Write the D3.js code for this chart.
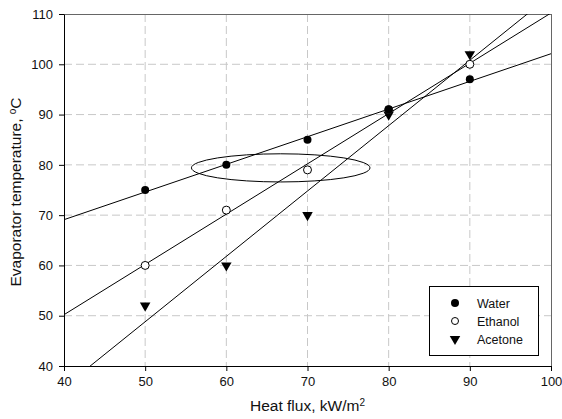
<!DOCTYPE html>
<html><head><meta charset="utf-8">
<script src="https://d3js.org/d3.v7.min.js"></script>
<style>body{margin:0;background:#fff}svg{display:block}text{font-family:"Liberation Sans",Arial,sans-serif}</style>
</head><body>
<svg id="c" width="562" height="419"></svg>
<script>
const heatFlux = [50, 60, 70, 80, 90];
const water = [75, 80, 85, 91, 97];
const ethanol = [60, 71, 79, 91, 100];
const acetone = [52, 60, 70, 90, 102];
const seriesNames = ["Water", "Ethanol", "Acetone"];
const xTicks = [40, 50, 60, 70, 80, 90, 100];
const yTicks = [40, 50, 60, 70, 80, 90, 100, 110];
const ellipseNote = {cx: 66.7, cy: 79.4, rx: 11.0, ry: 2.8};

const svg = d3.select("#c");
const m = {l: 64, r: 551, t: 14, b: 366};
const x = d3.scaleLinear().domain([40, 100]).range([m.l, m.r]);
const y = d3.scaleLinear().domain([40, 110]).range([m.b, m.t]);

// grid
const g = svg.append("g");
g.selectAll(".gx").data(xTicks.filter(d => d > 40 && d < 100)).join("line")
  .attr("x1", d => x(d)).attr("x2", d => x(d)).attr("y1", m.t).attr("y2", m.b)
  .attr("stroke", "#c8c8c8").attr("stroke-dasharray", "8,4");
g.selectAll(".gy").data(yTicks.filter(d => d > 40 && d < 110)).join("line")
  .attr("y1", d => y(d)).attr("y2", d => y(d)).attr("x1", m.l).attr("x2", m.r)
  .attr("stroke", "#c8c8c8").attr("stroke-dasharray", "8,4");

// frame top/right
svg.append("line").attr("x1", m.l).attr("x2", m.r).attr("y1", m.t + 0.5).attr("y2", m.t + 0.5).attr("stroke", "#666");
svg.append("line").attr("x1", m.r + 0.5).attr("x2", m.r + 0.5).attr("y1", m.t).attr("y2", m.b + 4).attr("stroke", "#666");

// clip
svg.append("clipPath").attr("id", "clip").append("rect")
  .attr("x", m.l).attr("y", m.t).attr("width", m.r - m.l).attr("height", m.b - m.t);

function fit(ys) {
  const mx = d3.mean(heatFlux), my = d3.mean(ys);
  let sxy = 0, sxx = 0;
  heatFlux.forEach((xv, i) => { sxy += (xv - mx) * (ys[i] - my); sxx += (xv - mx) ** 2; });
  const b = sxy / sxx;
  return {a: my - b * mx, b};
}
const lineG = svg.append("g").attr("clip-path", "url(#clip)");
[water, ethanol, acetone].forEach(ys => {
  const f = fit(ys);
  const xs = [30, 110];
  lineG.append("path")
    .attr("d", d3.line().x(d => x(d)).y(d => y(f.a + f.b * d))(xs))
    .attr("fill", "none").attr("stroke", "#000").attr("stroke-width", 1);
});

// ellipse
svg.append("ellipse")
  .attr("cx", x(ellipseNote.cx)).attr("cy", y(ellipseNote.cy))
  .attr("rx", x(ellipseNote.cx + ellipseNote.rx) - x(ellipseNote.cx))
  .attr("ry", y(ellipseNote.cy) - y(ellipseNote.cy + ellipseNote.ry))
  .attr("fill", "none").attr("stroke", "#000").attr("stroke-width", 1);

// axes
const ax = svg.append("g").attr("transform", `translate(0,${m.b})`)
  .call(d3.axisBottom(x).tickValues(xTicks).tickSize(5).tickPadding(6).tickSizeOuter(0));
const ay = svg.append("g").attr("transform", `translate(${m.l},0)`)
  .call(d3.axisLeft(y).tickValues(yTicks).tickSize(5).tickPadding(6).tickSizeOuter(0));
[ax, ay].forEach(a => {
  a.select(".domain").attr("stroke", "#000");
  a.selectAll("line").attr("stroke", "#000");
  a.selectAll("text").attr("font-size", 13).attr("fill", "#111").attr("font-family", "Liberation Sans, Arial, sans-serif");
});

// markers
const tri = d3.symbol().type(d3.symbolTriangle).size(48);
const pts = svg.append("g");
pts.selectAll(".a").data(heatFlux).join("path")
  .attr("d", tri).attr("transform", (d, i) => `translate(${x(d)},${y(acetone[i])}) rotate(180)`)
  .attr("fill", "#000");
pts.selectAll(".e").data(heatFlux).join("circle")
  .attr("cx", d => x(d)).attr("cy", (d, i) => y(ethanol[i])).attr("r", 4)
  .attr("fill", "#fff").attr("stroke", "#000").attr("stroke-width", 1);
pts.selectAll(".w").data(heatFlux).join("circle")
  .attr("cx", d => x(d)).attr("cy", (d, i) => y(water[i])).attr("r", 4)
  .attr("fill", "#000");

// legend
const lg = svg.append("g");
lg.append("rect").attr("x", 429.5).attr("y", 286.5).attr("width", 109).attr("height", 69)
  .attr("fill", "#fff").attr("stroke", "#000");
const rowsY = [303, 321, 339];
seriesNames.forEach((s, i) => {
  const cy = rowsY[i];
  if (i === 0) lg.append("circle").attr("cx", 455).attr("cy", cy).attr("r", 4).attr("fill", "#000");
  if (i === 1) lg.append("circle").attr("cx", 455).attr("cy", cy).attr("r", 3.5).attr("fill", "#fff").attr("stroke", "#000");
  if (i === 2) lg.append("path").attr("d", tri).attr("transform", `translate(455,${cy}) rotate(180)`).attr("fill", "#000");
  lg.append("text").attr("x", 477).attr("y", cy + 4.5).attr("font-size", 12.5).attr("fill", "#111").text(s);
});

// titles
svg.append("text").attr("x", (m.l + m.r) / 2).attr("y", 411).attr("text-anchor", "middle")
  .attr("font-size", 15.5).attr("fill", "#111")
  .html('Heat flux, kW/m<tspan baseline-shift="super" font-size="10">2</tspan>');
svg.append("text").attr("transform", `translate(21,${(m.t + m.b) / 2 + 2}) rotate(-90)`)
  .attr("text-anchor", "middle").attr("font-size", 15.5).attr("fill", "#111")
  .html('Evaporator temperature, <tspan baseline-shift="super" font-size="10">o</tspan>C');
</script>
</body></html>
